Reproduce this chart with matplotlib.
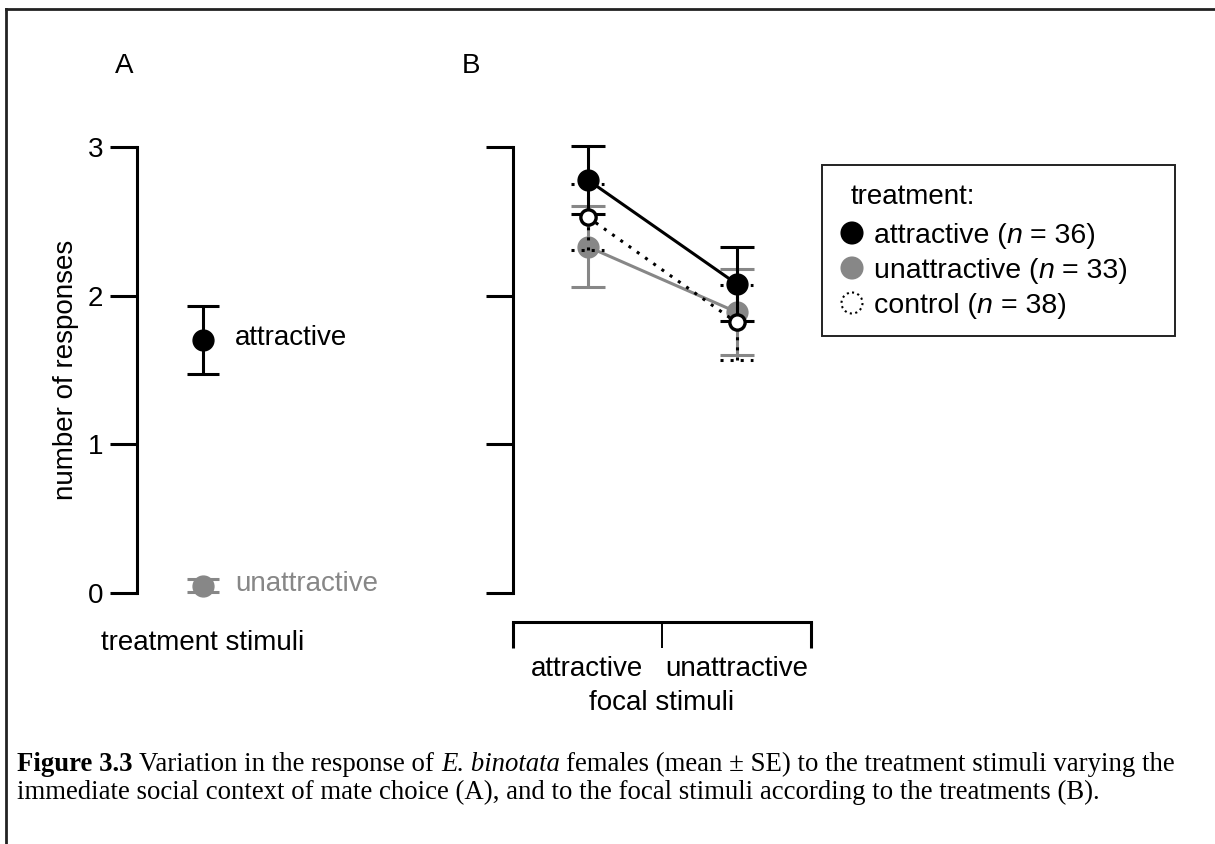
import matplotlib
matplotlib.use('Agg')
import matplotlib.pyplot as plt
from matplotlib.patches import Circle, Rectangle

W, H = 1215, 844
SANS = 'Liberation Sans'
SERIF = 'Liberation Serif'
GRAY = '#878787'
DOT = (0, (1, 2.3))

# panel A: response to the treatment stimuli
a_labels = ['attractive', 'unattractive']
a_mean = [1.70, 0.05]
a_se = [0.23, 0.045]
a_colors = ['black', GRAY]

# panel B: response to the focal stimuli by treatment
focal = ['attractive', 'unattractive']
treatments = ['attractive', 'unattractive', 'control']
treat_n = [36, 33, 38]
att_mean = [2.78, 2.08]
att_se = [0.23, 0.25]
unatt_mean = [2.33, 1.89]
unatt_se = [0.27, 0.29]
ctrl_mean = [2.53, 1.82]
ctrl_se = [0.22, 0.25]

yticks = [0, 1, 2, 3]

caption1 = [('Figure 3.3', 'bold'), (' Variation in the response of ', 'normal'),
            ('E. binotata', 'italic'),
            (' females (mean \u00b1 SE) to the treatment stimuli varying the', 'normal')]
caption2 = [('immediate social context of mate choice (A), and to the focal stimuli '
             'according to the treatments (B).', 'normal')]

plt.rcParams['font.family'] = [SANS, 'DejaVu Sans']
plt.rcParams['font.size'] = 20


def box(l, t, r, b):
    return [l / W, 1 - b / H, (r - l) / W, (b - t) / H]


fig = plt.figure(figsize=(W / 100, H / 100), dpi=100)
rend = fig.canvas.get_renderer()

# ---- panel A
axA = fig.add_axes(box(137, 147, 269, 593))
axA.set_xlim(-1, 1)
axA.set_ylim(0, 3)
for s in ['top', 'right', 'bottom']:
    axA.spines[s].set_visible(False)
axA.spines['left'].set_linewidth(2.2)
axA.set_yticks(yticks)
axA.tick_params(axis='y', length=19.5, width=2.2, pad=5)
axA.set_xticks([])
axA.set_ylabel('number of responses', labelpad=6)
axA.set_xlabel('treatment stimuli', labelpad=27)
for m, se, c, lab in zip(a_mean, a_se, a_colors, a_labels):
    axA.errorbar(0, m, yerr=se, fmt='o', color=c, ms=15, elinewidth=2.2,
                 capsize=11.5, capthick=2.2, clip_on=False)
    axA.annotate(lab, (0, m), xytext=(32, 2), textcoords='offset pixels',
                 va='center', color=c, annotation_clip=False)

# ---- panel B
axB = fig.add_axes(box(513, 147, 811, 593))
axB.set_xlim(-0.5, 1.5)
axB.set_ylim(0, 3)
for s in ['top', 'right']:
    axB.spines[s].set_visible(False)
axB.spines['left'].set_linewidth(2.2)
axB.spines['bottom'].set_linewidth(2.2)
axB.spines['bottom'].set_position(('outward', 21))
axB.set_yticks(yticks)
axB.set_yticklabels([])
axB.tick_params(axis='y', length=19.5, width=2.2)
axB.set_xticks([-0.5, 0.5, 1.5])
axB.set_xticklabels([])
axB.tick_params(axis='x', which='major', length=18.7, width=2.2)
mid = axB.xaxis.get_major_ticks()[1].tick1line
mid.set_markeredgewidth(1.4)
mid.set_color('#444444')
axB.set_xticks([0, 1], minor=True)
axB.set_xticklabels(focal, minor=True)
axB.tick_params(axis='x', which='minor', length=0, pad=24)
axB.set_xlabel('focal stimuli', labelpad=6)

xs = list(range(len(focal)))
for m, se, c, z in [(att_mean, att_se, 'black', 3), (unatt_mean, unatt_se, GRAY, 2)]:
    axB.errorbar(xs, m, yerr=se, fmt='o-', color=c, ms=15, lw=2.2, elinewidth=2.2,
                 capsize=12, capthick=2.2, clip_on=False, zorder=z)

cap_half = 16.5 * (axB.get_xlim()[1] - axB.get_xlim()[0]) / (811 - 513)
axB.plot(xs, ctrl_mean, ls=DOT, color='black', lw=2.2, zorder=4)
eb = axB.errorbar(xs, ctrl_mean, yerr=ctrl_se, fmt='none', ecolor='black',
                  elinewidth=2.2, capsize=0, zorder=4)
eb.lines[2][0].set_linestyle(DOT)
lo = [m - s for m, s in zip(ctrl_mean, ctrl_se)]
hi = [m + s for m, s in zip(ctrl_mean, ctrl_se)]
for ys in (lo, hi):
    axB.hlines(ys, [x - cap_half for x in xs], [x + cap_half for x in xs],
               colors='black', linestyles=DOT, lw=2.2, zorder=4)
axB.plot(xs, ctrl_mean, 'o', mfc='white', mec='black', ms=11, mew=2.4, zorder=5)

# ---- overlay in pixel coordinates: legend, panel letters, caption, frame
lax = fig.add_axes([0, 0, 1, 1])
lax.set_xlim(0, W)
lax.set_ylim(H, 0)
lax.axis('off')


def style_kw(style, family, size):
    kw = dict(family=family, fontsize=size)
    if style == 'bold':
        kw['fontweight'] = 'bold'
    if style == 'italic':
        kw['fontstyle'] = 'italic'
    return kw


def space_w(kw):
    t1 = lax.text(0, 0, 'a a', **kw)
    t2 = lax.text(0, 0, 'aa', **kw)
    w = t1.get_window_extent(rend).width - t2.get_window_extent(rend).width
    t1.remove()
    t2.remove()
    return w


def text_runs(x, y, runs, family, size):
    for s, style in runs:
        kw = style_kw(style, family, size)
        sw = space_w(kw)
        core = s.strip(' ')
        x += (len(s) - len(s.lstrip(' '))) * sw
        t = lax.text(x, y, core, ha='left', va='baseline', **kw)
        x += t.get_window_extent(rend).width + (len(s) - len(s.rstrip(' '))) * sw


lax.add_patch(Rectangle((822, 165), 353, 171, fill=False, lw=1.4, ec='#222222'))
lax.text(851, 197, 'treatment:', va='center', fontsize=20)
leg_face = ['black', GRAY, 'white']
leg_edge = ['black', GRAY, 'black']
leg_ls = ['-', '-', ':']
for i, (name, n) in enumerate(zip(treatments, treat_n)):
    y = 233 + 35 * i
    lax.add_patch(Circle((852, y), 10.5, fc=leg_face[i], ec=leg_edge[i],
                         ls=leg_ls[i], lw=1.5))
    text_runs(874, y + 10, [(name + ' (', 'normal'), ('n', 'italic'),
                            (' = %d)' % n, 'normal')], SANS, 20.5)

lax.text(124, 66, 'A', ha='center', va='center', fontsize=20)
lax.text(471, 66, 'B', ha='center', va='center', fontsize=20)

text_runs(17, 771, caption1, SERIF, 19.3)
text_runs(17, 799, caption2, SERIF, 19.3)

lax.plot([6, W], [9, 9], color='#222222', lw=2, clip_on=False)
lax.plot([6, 6], [9, H], color='#222222', lw=2, clip_on=False)

fig.savefig('out.png', dpi=100)
